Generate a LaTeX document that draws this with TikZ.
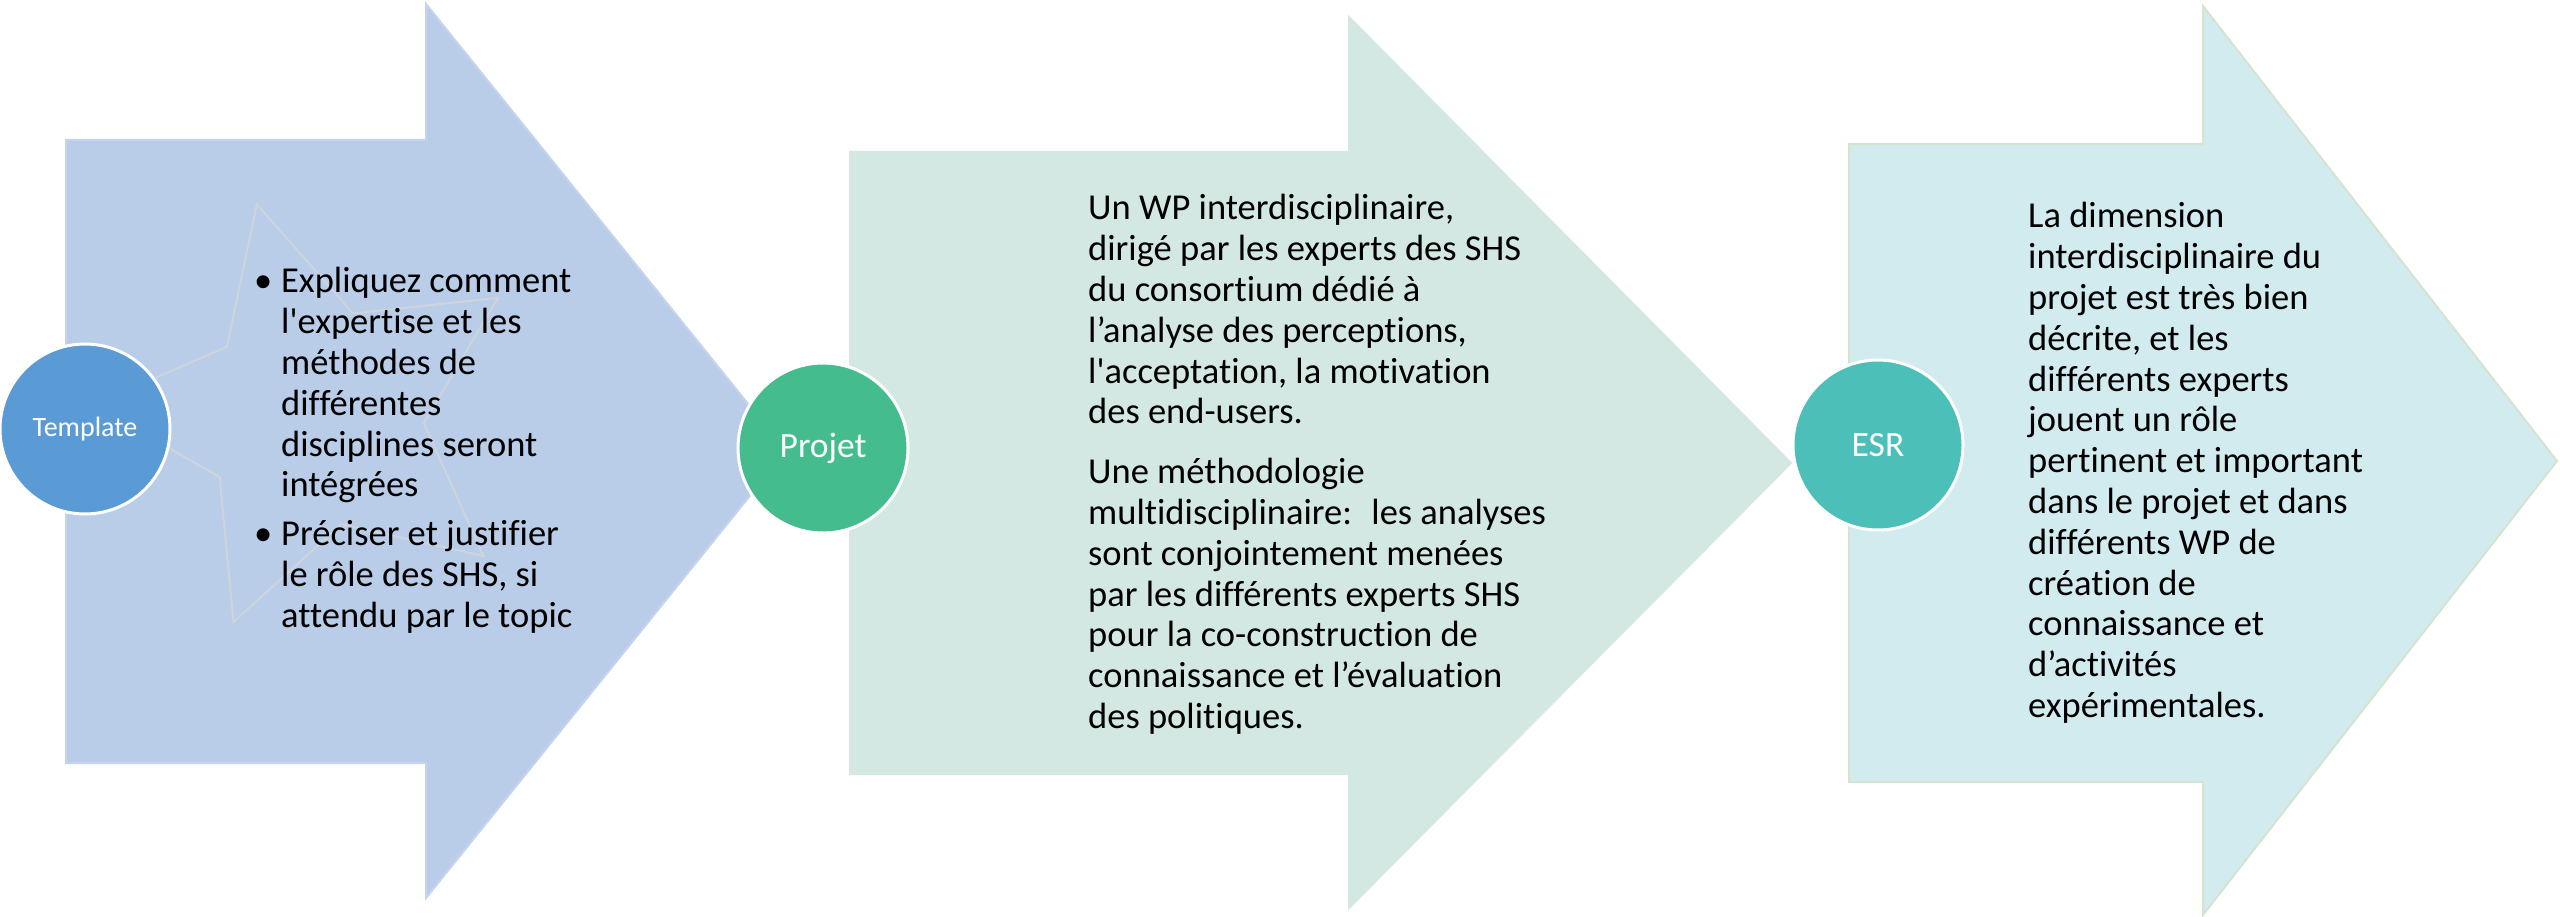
\documentclass[tikz,border=0pt]{standalone}
\usepackage{fontspec}
\setmainfont{Carlito}[Ligatures={TeXOff,NoCommon}]
\definecolor{arrBlue}{HTML}{B9CDE9}
\definecolor{arrBlueEdge}{HTML}{C6D3EE}
\definecolor{arrGreen}{HTML}{D3E8E2}
\definecolor{arrTeal}{HTML}{D2EBEE}
\definecolor{arrTealEdge}{HTML}{D4E4CE}
\definecolor{cBlue}{HTML}{5B9BD5}
\definecolor{cGreen}{HTML}{45BC8E}
\definecolor{cTeal}{HTML}{4BBFB8}
\definecolor{starLine}{HTML}{CDD4DC}
\newcommand{\bodyfont}{\fontsize{36.5}{40.8}\selectfont}
\newcommand{\bulletmark}{\leavevmode\llap{\makebox[27pt][l]{•}}}
\tikzset{
  badge/.style={circle, draw=white, line width=3pt, minimum size=170pt,
    inner sep=0pt, text=white, font=\fontsize{35.5}{40}\selectfont},
  bodytext/.style={anchor=base west, inner sep=0pt, text=black},
  arrowshape/.style={line width=2pt, line join=miter},
}
\begin{document}
\begin{tikzpicture}[x=1pt,y=-1pt]
\useasboundingbox (0,0) rectangle (2560,917);

% process arrows
\path[arrowshape, fill=arrBlue, draw=arrBlueEdge]
  (66,140) -- (426,140) -- (426,4) -- (786,451) -- (426,898) -- (426,763) -- (66,763) -- cycle;
\path[arrowshape, fill=arrGreen, draw=arrGreen]
  (850,152) -- (1349,152) -- (1349,17) -- (1791,463) -- (1349,908) -- (1349,774) -- (850,774) -- cycle;
\path[arrowshape, fill=arrTeal, draw=arrTealEdge]
  (1849,144) -- (2203,144) -- (2203,6) -- (2557,461) -- (2203,915) -- (2203,782) -- (1849,782) -- cycle;

% faint star behind the first text
\draw[starLine, line width=2pt, line join=miter]
  (256.8,204.3) -- (353.1,313.5) -- (497.9,297.8) -- (423.8,423.2) -- (483.5,556.0)
  -- (341.3,524.3) -- (233.4,622.1) -- (219.7,477.1) -- (93.3,404.7) -- (227.0,346.8) -- cycle;

% texts
\node[bodytext] (t1) at (254,293) {\parbox[t]{340pt}{\bodyfont\raggedright
  \leftskip=27pt\parindent=0pt\parskip=8pt
  \bulletmark Expliquez comment\\
  l'expertise et les\\
  méthodes de\\
  différentes\\
  disciplines seront\\
  intégrées\par
  \bulletmark Préciser et justifier\\
  le rôle des SHS, si\\
  attendu par le topic}};

\node[bodytext] (t2) at (1088,220) {\parbox[t]{470pt}{\bodyfont\raggedright
  \parindent=0pt\parskip=19pt
  Un WP interdisciplinaire,\\
  dirigé par les experts des SHS\\
  du consortium dédié à\\
  l’analyse des perceptions,\\
  l'acceptation, la motivation\\
  des end-users.\par
  Une méthodologie\\
  multidisciplinaire:~ les analyses\\
  sont conjointement menées\\
  par les différents experts SHS\\
  pour la co-construction de\\
  connaissance et l’évaluation\\
  des politiques.}};

\node[bodytext] (t3) at (2028,228) {\parbox[t]{360pt}{\bodyfont\raggedright
  \parindent=0pt
  La dimension\\
  interdisciplinaire du\\
  projet est très bien\\
  décrite, et les\\
  différents experts\\
  jouent un rôle\\
  pertinent et important\\
  dans le projet et dans\\
  différents WP de\\
  création de\\
  connaissance et\\
  d’activités\\
  expérimentales.}};

% circles
\node[badge, fill=cBlue, font=\fontsize{28}{32}\selectfont] (tmpl) at (85,429) {Template};
\node[badge, fill=cGreen] (proj) at (823,448) {Projet};
\node[badge, fill=cTeal] (esr) at (1878,445) {ESR};
\end{tikzpicture}
\end{document}
